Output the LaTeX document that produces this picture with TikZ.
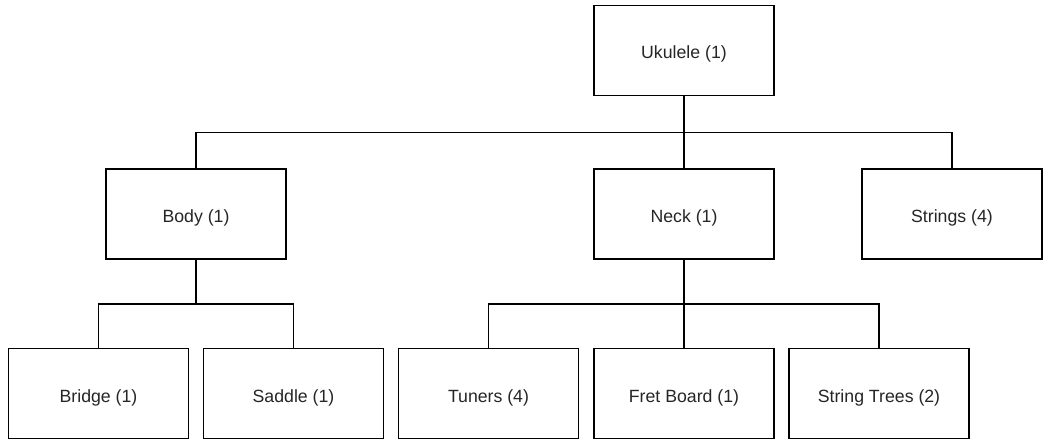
\documentclass[tikz,border=0pt]{standalone}
\usepackage{fontspec}
\setmainfont{Liberation Sans}
\begin{document}
\begin{tikzpicture}[x=1pt,y=-1pt,
  part/.style={draw=black,line width=1.5pt,fill=white,rectangle,minimum width=180pt,minimum height=90pt,inner sep=0pt,text height=17pt,text depth=0pt,font=\fontsize{17.7}{20}\selectfont,text=black!85},
  link/.style={draw=black,line width=1.5pt}]
\useasboundingbox (0,0) rectangle (1052,446);
\node[part] (uk) at (684,50.5) {Ukulele (1)};
\node[part] (body) at (196,214) {Body (1)};
\node[part] (neck) at (684,214) {Neck (1)};
\node[part] (strings) at (952,214) {Strings (4)};
\node[part] (bridge) at (98.5,393.5) {Bridge (1)};
\node[part] (saddle) at (293.5,393.5) {Saddle (1)};
\node[part] (tuners) at (488.5,393.5) {Tuners (4)};
\node[part] (fret) at (684,393.5) {Fret Board (1)};
\node[part] (trees) at (879,393.5) {String Trees (2)};
\coordinate (b1) at (684,132.5);
\coordinate (b2) at (196,304);
\coordinate (b3) at (684,304);
\draw[link] (uk.south) -- (b1) -| (body.north);
\draw[link] (b1) -| (strings.north);
\draw[link] (b1) -- (neck.north);
\draw[link] (body.south) -- (b2) -| (bridge.north);
\draw[link] (b2) -| (saddle.north);
\draw[link] (neck.south) -- (b3) -| (tuners.north);
\draw[link] (b3) -| (trees.north);
\draw[link] (b3) -- (fret.north);
\end{tikzpicture}
\end{document}
